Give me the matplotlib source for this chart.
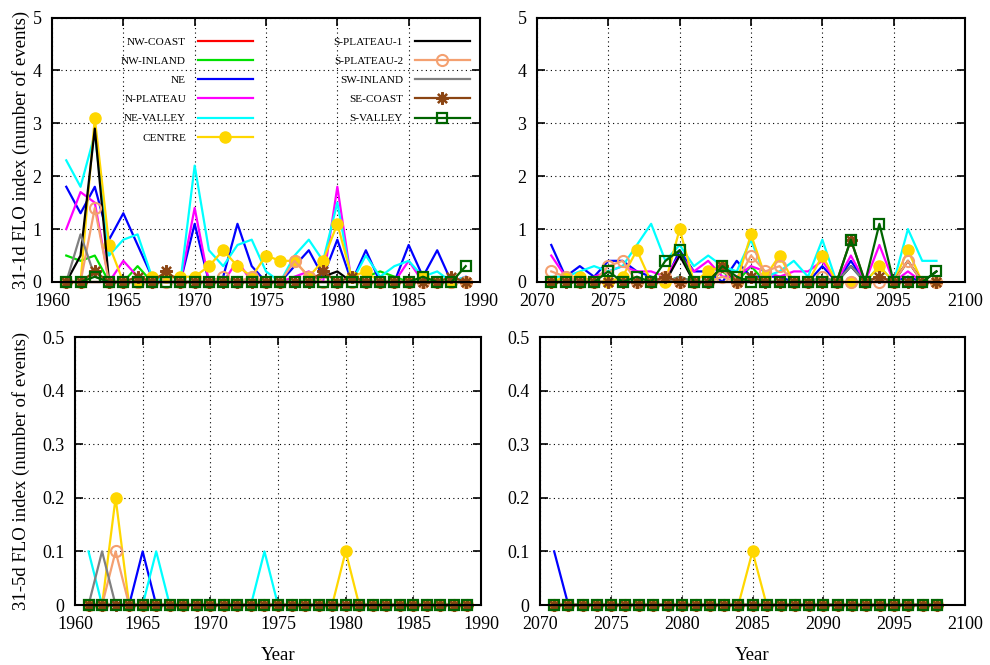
import matplotlib
matplotlib.use("Agg")
import matplotlib.pyplot as plt

plt.rcParams['font.family'] = ['Liberation Serif', 'DejaVu Serif']

# ---------------- data ----------------
names = ["NW-COAST", "NW-INLAND", "NE", "N-PLATEAU", "NE-VALLEY", "CENTRE",
         "S-PLATEAU-1", "S-PLATEAU-2", "SW-INLAND", "SE-COAST", "S-VALLEY"]

years_past = list(range(1961, 1990))   # 29 years
years_fut = list(range(2071, 2099))    # 28 years

# 31-1d FLO index, 1961-1989
p1_nw_coast  = [0, 0, 0, 0, 0, 0, 0, 0, 0, 0, 0, 0, 0, 0, 0, 0, 0, 0, 0, 0, 0, 0, 0, 0, 0, 0, 0, 0, 0]
p1_nw_inland = [0.5, 0.4, 0.5, 0, 0, 0.3, 0, 0, 0, 0, 0, 0, 0, 0, 0, 0, 0, 0, 0, 0, 0, 0.1, 0.2, 0.1, 0, 0, 0, 0, 0]
p1_ne        = [1.8, 1.3, 1.8, 0.8, 1.3, 0.7, 0.1, 0, 0, 1.1, 0, 0.1, 1.1, 0.3, 0, 0, 0.3, 0.6, 0.1, 0.8, 0, 0.6, 0, 0, 0.7, 0.1, 0.6, 0, 0]
p1_n_plateau = [1.0, 1.7, 1.5, 0, 0.4, 0.1, 0, 0, 0, 1.4, 0, 0, 0.4, 0, 0, 0, 0.1, 0.2, 0, 1.8, 0, 0, 0, 0, 0.4, 0, 0, 0, 0.1]
p1_ne_valley = [2.3, 1.8, 2.8, 0.5, 0.8, 0.9, 0.1, 0, 0, 2.2, 0.6, 0.3, 0.7, 0.8, 0.2, 0, 0.5, 0.8, 0.4, 1.5, 0, 0.5, 0.1, 0.3, 0.4, 0.1, 0.2, 0, 0.1]
p1_centre    = [0, 0, 3.1, 0.7, 0, 0, 0.1, 0.1, 0.1, 0.1, 0.3, 0.6, 0.3, 0.1, 0.5, 0.4, 0.4, 0.1, 0.4, 1.1, 0.1, 0.2, 0, 0, 0, 0.1, 0, 0, 0]
p1_s_plat1   = [0, 0.5, 2.9, 0, 0, 0, 0, 0, 0, 0, 0, 0, 0, 0, 0, 0, 0, 0, 0.1, 0.2, 0, 0, 0, 0, 0, 0, 0, 0, 0]
p1_s_plat2   = [0, 0, 1.4, 0, 0, 0, 0, 0, 0, 0, 0, 0.1, 0, 0.1, 0, 0, 0.4, 0.1, 0, 0, 0, 0, 0, 0, 0, 0, 0, 0, 0]
p1_sw_inland = [0, 0.9, 0.1, 0, 0, 0, 0, 0, 0, 0, 0, 0, 0, 0, 0, 0, 0, 0, 0, 0, 0, 0, 0, 0, 0, 0, 0, 0, 0]
p1_se_coast  = [0, 0, 0.2, 0, 0, 0.1, 0, 0.2, 0, 0, 0, 0, 0, 0, 0, 0, 0, 0, 0.2, 0, 0.1, 0, 0, 0, 0, 0, 0, 0.1, 0]
p1_s_valley  = [0, 0, 0.1, 0, 0, 0, 0, 0, 0, 0, 0, 0, 0, 0, 0, 0, 0, 0, 0, 0, 0, 0, 0, 0, 0, 0.1, 0, 0, 0.3]

# 31-1d FLO index, 2071-2098
f1_nw_coast  = [0, 0, 0, 0, 0, 0, 0, 0, 0, 0, 0, 0, 0, 0, 0, 0, 0, 0, 0, 0, 0, 0, 0, 0, 0, 0, 0, 0]
f1_nw_inland = [0, 0, 0, 0, 0, 0, 0, 0, 0, 0.1, 0, 0, 0.2, 0, 0.3, 0, 0, 0, 0, 0, 0, 0, 0, 0.1, 0, 0, 0, 0]
f1_ne        = [0.7, 0.1, 0.3, 0.1, 0.4, 0.4, 0.2, 0.1, 0, 0.6, 0.2, 0.2, 0, 0.4, 0.1, 0.1, 0.1, 0, 0, 0.3, 0, 0.4, 0, 0.1, 0, 0.1, 0, 0]
f1_n_plateau = [0.5, 0.1, 0, 0.1, 0.2, 0.3, 0.2, 0.2, 0.1, 0.5, 0.2, 0.4, 0.1, 0.1, 0.3, 0.2, 0.1, 0.2, 0.2, 0.4, 0, 0.5, 0, 0.7, 0, 0.2, 0, 0]
f1_ne_valley = [0.1, 0.1, 0.2, 0.3, 0.2, 0.3, 0.7, 1.1, 0.4, 0.7, 0.3, 0.5, 0.3, 0.2, 0.8, 0.1, 0.2, 0.4, 0.1, 0.8, 0, 0.3, 0, 0.3, 0, 1.0, 0.4, 0.4]
f1_centre    = [0, 0.1, 0.1, 0, 0, 0.1, 0.6, 0, 0, 1.0, 0, 0.2, 0.3, 0, 0.9, 0.1, 0.5, 0, 0, 0.5, 0, 0, 0, 0.3, 0, 0.6, 0, 0]
f1_s_plat1   = [0, 0, 0, 0, 0, 0, 0, 0, 0, 0.5, 0, 0, 0.3, 0, 0, 0, 0, 0, 0, 0, 0, 0.3, 0, 0, 0, 0.4, 0, 0.2]
f1_s_plat2   = [0.2, 0.1, 0, 0, 0.3, 0.4, 0, 0, 0.1, 0, 0, 0, 0.1, 0, 0.5, 0.2, 0.3, 0, 0, 0.1, 0, 0, 0, 0, 0, 0.4, 0, 0]
f1_sw_inland = [0, 0, 0, 0, 0, 0, 0, 0, 0, 0.1, 0, 0, 0, 0, 0, 0, 0, 0, 0, 0.1, 0, 0.3, 0, 0.1, 0, 0, 0, 0]
f1_se_coast  = [0, 0, 0, 0, 0, 0, 0, 0, 0.1, 0, 0, 0, 0.3, 0, 0.1, 0, 0, 0, 0, 0, 0, 0.8, 0, 0.1, 0, 0, 0, 0]
f1_s_valley  = [0, 0, 0, 0, 0.2, 0, 0.1, 0, 0.4, 0.6, 0, 0, 0.3, 0.1, 0, 0, 0, 0, 0, 0, 0, 0.8, 0, 1.1, 0, 0, 0, 0.2]

# 31-5d FLO index, 1961-1989
p5_nw_coast  = [0, 0, 0, 0, 0, 0, 0, 0, 0, 0, 0, 0, 0, 0, 0, 0, 0, 0, 0, 0, 0, 0, 0, 0, 0, 0, 0, 0, 0]
p5_nw_inland = [0, 0, 0, 0, 0, 0, 0, 0, 0, 0, 0, 0, 0, 0, 0, 0, 0, 0, 0, 0, 0, 0, 0, 0, 0, 0, 0, 0, 0]
p5_ne        = [0, 0, 0, 0, 0.1, 0, 0, 0, 0, 0, 0, 0, 0, 0, 0, 0, 0, 0, 0, 0, 0, 0, 0, 0, 0, 0, 0, 0, 0]
p5_n_plateau = [0, 0, 0, 0, 0, 0, 0, 0, 0, 0, 0, 0, 0, 0, 0, 0, 0, 0, 0, 0, 0, 0, 0, 0, 0, 0, 0, 0, 0]
p5_ne_valley = [0.1, 0, 0, 0, 0, 0.1, 0, 0, 0, 0, 0, 0, 0, 0.1, 0, 0, 0, 0, 0, 0, 0, 0, 0, 0, 0, 0, 0, 0, 0]
p5_centre    = [0, 0, 0.2, 0, 0, 0, 0, 0, 0, 0, 0, 0, 0, 0, 0, 0, 0, 0, 0, 0.1, 0, 0, 0, 0, 0, 0, 0, 0, 0]
p5_s_plat1   = [0, 0, 0, 0, 0, 0, 0, 0, 0, 0, 0, 0, 0, 0, 0, 0, 0, 0, 0, 0, 0, 0, 0, 0, 0, 0, 0, 0, 0]
p5_s_plat2   = [0, 0, 0.1, 0, 0, 0, 0, 0, 0, 0, 0, 0, 0, 0, 0, 0, 0, 0, 0, 0, 0, 0, 0, 0, 0, 0, 0, 0, 0]
p5_sw_inland = [0, 0.1, 0, 0, 0, 0, 0, 0, 0, 0, 0, 0, 0, 0, 0, 0, 0, 0, 0, 0, 0, 0, 0, 0, 0, 0, 0, 0, 0]
p5_se_coast  = [0, 0, 0, 0, 0, 0, 0, 0, 0, 0, 0, 0, 0, 0, 0, 0, 0, 0, 0, 0, 0, 0, 0, 0, 0, 0, 0, 0, 0]
p5_s_valley  = [0, 0, 0, 0, 0, 0, 0, 0, 0, 0, 0, 0, 0, 0, 0, 0, 0, 0, 0, 0, 0, 0, 0, 0, 0, 0, 0, 0, 0]

# 31-5d FLO index, 2071-2098
f5_nw_coast  = [0, 0, 0, 0, 0, 0, 0, 0, 0, 0, 0, 0, 0, 0, 0, 0, 0, 0, 0, 0, 0, 0, 0, 0, 0, 0, 0, 0]
f5_nw_inland = [0, 0, 0, 0, 0, 0, 0, 0, 0, 0, 0, 0, 0, 0, 0, 0, 0, 0, 0, 0, 0, 0, 0, 0, 0, 0, 0, 0]
f5_ne        = [0.1, 0, 0, 0, 0, 0, 0, 0, 0, 0, 0, 0, 0, 0, 0, 0, 0, 0, 0, 0, 0, 0, 0, 0, 0, 0, 0, 0]
f5_n_plateau = [0, 0, 0, 0, 0, 0, 0, 0, 0, 0, 0, 0, 0, 0, 0, 0, 0, 0, 0, 0, 0, 0, 0, 0, 0, 0, 0, 0]
f5_ne_valley = [0, 0, 0, 0, 0, 0, 0, 0, 0, 0, 0, 0, 0, 0, 0, 0, 0, 0, 0, 0, 0, 0, 0, 0, 0, 0, 0, 0]
f5_centre    = [0, 0, 0, 0, 0, 0, 0, 0, 0, 0, 0, 0, 0, 0, 0.1, 0, 0, 0, 0, 0, 0, 0, 0, 0, 0, 0, 0, 0]
f5_s_plat1   = [0, 0, 0, 0, 0, 0, 0, 0, 0, 0, 0, 0, 0, 0, 0, 0, 0, 0, 0, 0, 0, 0, 0, 0, 0, 0, 0, 0]
f5_s_plat2   = [0, 0, 0, 0, 0, 0, 0, 0, 0, 0, 0, 0, 0, 0, 0, 0, 0, 0, 0, 0, 0, 0, 0, 0, 0, 0, 0, 0]
f5_sw_inland = [0, 0, 0, 0, 0, 0, 0, 0, 0, 0, 0, 0, 0, 0, 0, 0, 0, 0, 0, 0, 0, 0, 0, 0, 0, 0, 0, 0]
f5_se_coast  = [0, 0, 0, 0, 0, 0, 0, 0, 0, 0, 0, 0, 0, 0, 0, 0, 0, 0, 0, 0, 0, 0, 0, 0, 0, 0, 0, 0]
f5_s_valley  = [0, 0, 0, 0, 0, 0, 0, 0, 0, 0, 0, 0, 0, 0, 0, 0, 0, 0, 0, 0, 0, 0, 0, 0, 0, 0, 0, 0]

xticks_past = [1960, 1965, 1970, 1975, 1980, 1985, 1990]
xticks_fut = [2070, 2075, 2080, 2085, 2090, 2095, 2100]
yticks_1d = [0, 1, 2, 3, 4, 5]
yticks_5d = [0, 0.1, 0.2, 0.3, 0.4, 0.5]
ylabel_1d = "31-1d FLO index (number of events)"
ylabel_5d = "31-5d FLO index (number of events)"
xlabel = "Year"

# ---------------- styles ----------------
styles = [
    dict(color="#ff0000", marker=None),
    dict(color="#00e000", marker=None),
    dict(color="#0000ff", marker=None),
    dict(color="#ff00ff", marker=None),
    dict(color="#00ffff", marker=None),
    dict(color="#ffd700", marker="o", ms=8, mfc="#ffd700", mec="#ffd700"),
    dict(color="#000000", marker=None),
    dict(color="#f4a070", marker="o", ms=8, mfc="none", mec="#f4a070", mew=1.5),
    dict(color="#808080", marker=None),
    dict(color="#8b4513", marker=(8, 2, 0), ms=9, mec="#8b4513", mew=1.6),
    dict(color="#006400", marker="s", ms=7, mfc="none", mec="#006400", mew=1.6),
]

W, H = 990.0, 665.0
# (left, right, top, bottom) in pixels
panels = [
    ((52, 480, 17.5, 282), years_past,
     [p1_nw_coast, p1_nw_inland, p1_ne, p1_n_plateau, p1_ne_valley, p1_centre,
      p1_s_plat1, p1_s_plat2, p1_sw_inland, p1_se_coast, p1_s_valley],
     (1960, 1990), xticks_past, (0, 5), yticks_1d, ylabel_1d, None, True),
    ((537, 965, 17.5, 282), years_fut,
     [f1_nw_coast, f1_nw_inland, f1_ne, f1_n_plateau, f1_ne_valley, f1_centre,
      f1_s_plat1, f1_s_plat2, f1_sw_inland, f1_se_coast, f1_s_valley],
     (2070, 2100), xticks_fut, (0, 5), yticks_1d, None, None, False),
    ((75, 481, 337, 605), years_past,
     [p5_nw_coast, p5_nw_inland, p5_ne, p5_n_plateau, p5_ne_valley, p5_centre,
      p5_s_plat1, p5_s_plat2, p5_sw_inland, p5_se_coast, p5_s_valley],
     (1960, 1990), xticks_past, (0, 0.5), yticks_5d, ylabel_5d, xlabel, False),
    ((540, 965, 337, 605), years_fut,
     [f5_nw_coast, f5_nw_inland, f5_ne, f5_n_plateau, f5_ne_valley, f5_centre,
      f5_s_plat1, f5_s_plat2, f5_sw_inland, f5_se_coast, f5_s_valley],
     (2070, 2100), xticks_fut, (0, 0.5), yticks_5d, None, xlabel, False),
]

fig = plt.figure(figsize=(9.9, 6.65), dpi=100)

for (l, r, t, b), yrs, series, xlim, xt, ylim, yt, ylab, xlab, show_leg in panels:
    ax = fig.add_axes([l / W, 1 - b / H, (r - l) / W, (b - t) / H])
    for i, (name, vals) in enumerate(zip(names, series)):
        st = dict(styles[i])
        color = st.pop("color")
        ax.plot(yrs, vals, color=color, lw=1.6, label=name, zorder=2 + i * 0.1,
                clip_on=False, **st)
    ax.set_xlim(*xlim)
    ax.set_ylim(*ylim)
    ax.set_xticks(xt)
    ax.set_yticks(yt)
    ax.set_yticklabels([("%g" % v) for v in yt])
    ax.grid(True, color="black", linestyle=(0, (1, 3)), linewidth=0.8)
    ax.set_axisbelow(True)
    ax.tick_params(direction="in", length=6, width=1.2, top=True, right=True,
                   labelsize=13)
    ax.tick_params(axis="x", pad=8)
    ax.tick_params(axis="y", pad=7.5)
    for sp in ax.spines.values():
        sp.set_linewidth(1.5)
        sp.set_zorder(5)
    if ylab:
        ax.set_ylabel(ylab, fontsize=13.5)
        ax.yaxis.set_label_coords((30 - l) / (r - l), 0.5)
    if xlab:
        ax.set_xlabel(xlab, fontsize=13.5, labelpad=10)
    if show_leg:
        ax.legend(ncol=2, loc="upper left", bbox_to_anchor=(121 / W, 1 - 37.2 / H),
                  bbox_transform=fig.transFigure, frameon=False, markerfirst=False,
                  fontsize=8.1, handlelength=4.84, handletextpad=1.09,
                  columnspacing=7.2, labelspacing=0.82, borderpad=0,
                  borderaxespad=0)

fig.savefig("out.png", dpi=100)
